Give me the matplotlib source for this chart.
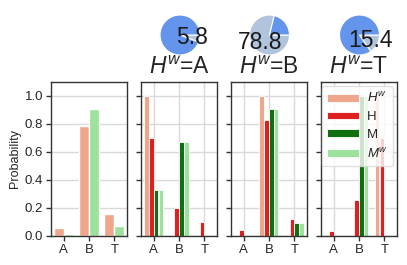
import colorsys
import numpy as np
import matplotlib
matplotlib.use("Agg")
import matplotlib.pyplot as plt
import matplotlib.colors as mcolors

# ---------------- data ----------------
categories = ["A", "B", "T"]
panel_titles = [r"$H^w$=A", r"$H^w$=B", r"$H^w$=T"]
series_labels = [r"$H^w$", "H", "M", r"$M^w$"]

# marginal panel
marg_Hw = [0.058, 0.788, 0.154]
marg_Mw = [0.015, 0.905, 0.072]

# pie percentages (share of H^w)
pie_values = [5.8, 78.8, 15.4]

# conditional panels: rows = Hw, H, M, Mw ; cols = A, B, T
cond_A = [[1.00, 0.00, 0.00],
          [0.70, 0.20, 0.10],
          [0.33, 0.67, 0.00],
          [0.33, 0.67, 0.00]]
cond_B = [[0.00, 1.00, 0.00],
          [0.04, 0.83, 0.12],
          [0.00, 0.905, 0.09],
          [0.00, 0.905, 0.09]]
cond_T = [[0.00, 0.00, 1.00],
          [0.035, 0.26, 0.70],
          [0.00, 1.00, 0.00],
          [0.00, 1.00, 0.00]]
conditionals = [cond_A, cond_B, cond_T]

# ---------------- style ----------------
plt.rcParams['font.family'] = ['Liberation Sans', 'DejaVu Sans']
plt.rcParams['mathtext.fontset'] = 'custom'
plt.rcParams['mathtext.rm'] = 'Liberation Sans'
plt.rcParams['mathtext.it'] = 'Liberation Sans:italic'
plt.rcParams['text.color'] = '0.15'
plt.rcParams['xtick.color'] = '0.15'
plt.rcParams['ytick.color'] = '0.15'
plt.rcParams['axes.labelcolor'] = '0.15'


def desat(c, prop=0.75):
    r, g, b = mcolors.to_rgb(c)
    h, l, s = colorsys.rgb_to_hls(r, g, b)
    return colorsys.hls_to_rgb(h, l, s * prop)


base_colors = ['lightsalmon', 'red', 'green', 'lightgreen']
colors = [desat(c) for c in base_colors]

W, H = 407, 265
fig = plt.figure(figsize=(W / 100, H / 100), dpi=100)
fig.subplots_adjust(left=51 / W, right=397 / W, bottom=1 - 236 / H,
                    top=1 - 82 / H, wspace=0.184)
axes = fig.subplots(1, 4, sharey=True)

x = np.arange(len(categories))


def style_ax(ax, xgrid=True):
    ax.set_ylim(0, 1.1)
    ax.set_xlim(-0.5, 2.5)
    ax.set_yticks([0.0, 0.2, 0.4, 0.6, 0.8, 1.0])
    ax.set_xticks(x)
    ax.set_xticklabels(categories)
    ax.set_axisbelow(True)
    ax.grid(axis='y', color='0.85', linewidth=1)
    if xgrid:
        ax.grid(axis='x', color='0.85', linewidth=1)
    for sp in ax.spines.values():
        sp.set_color('0.2')
        sp.set_linewidth(1)
    ax.tick_params(axis='both', length=3.5, width=1, labelsize=9.5,
                   color='0.2', pad=2)


# marginal panel
ax0 = axes[0]
ax0.bar(x - 0.2, marg_Hw, width=0.4, color=colors[0], edgecolor='white', linewidth=1)
ax0.bar(x + 0.2, marg_Mw, width=0.4, color=colors[3], edgecolor='white', linewidth=1)
style_ax(ax0, xgrid=False)
ax0.set_yticklabels(["0.0", "0.2", "0.4", "0.6", "0.8", "1.0"])
ax0.set_ylabel("Probability", fontsize=9, labelpad=3)

offsets = [-0.285, -0.095, 0.095, 0.285]
for ax, cond, title in zip(axes[1:], conditionals, panel_titles):
    handles = []
    for k in range(4):
        b = ax.bar(x + offsets[k], cond[k], width=0.18, color=colors[k],
                   edgecolor='white', linewidth=0.6)
        handles.append(b)
    style_ax(ax, xgrid=True)
    ax.tick_params(axis='y', labelleft=False)
    ax.set_title(title, fontsize=16.5, pad=6)

leg = axes[3].legend(handles, series_labels, loc='upper right', fontsize=9.5,
                     handlelength=2.4, handleheight=0.55, framealpha=0.8,
                     borderaxespad=0.3, labelspacing=0.45, handletextpad=0.6,
                     borderpad=0.4)
leg.get_frame().set_edgecolor('0.85')

# pies
pie_centers_x = [180, 269.5, 359.5]
pie_cy = 35
r_px = 22
for cx, v in zip(pie_centers_x, pie_values):
    pax = fig.add_axes([(cx - r_px) / W, 1 - (pie_cy + r_px) / H,
                        2 * r_px / W, 2 * r_px / H])
    wedges, texts, autotexts = pax.pie(
        [v, 100 - v], colors=['lightsteelblue', 'cornflowerblue'],
        counterclock=False, startangle=0, autopct='%.1f',
        pctdistance=0.6, wedgeprops=dict(edgecolor='white', linewidth=0.8),
        textprops=dict(fontsize=16.5, color='0.1'))
    autotexts[1].set_text('')
    pax.set_xlim(-1.1, 1.1)
    pax.set_ylim(-1.1, 1.1)
    pax.set_aspect('equal')
    pax.axis('off')

fig.savefig("out.png", dpi=100)
